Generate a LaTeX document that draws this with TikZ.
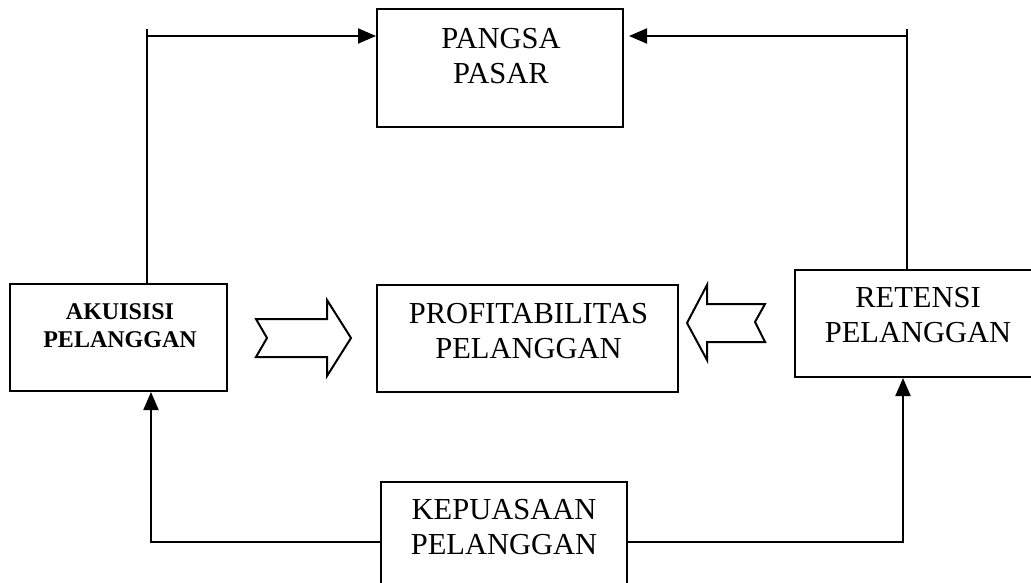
\documentclass[tikz,border=0pt]{standalone}
\usepackage{fontspec}
\setmainfont{Liberation Serif}
\usetikzlibrary{arrows.meta}
\tikzset{
  box/.style={draw, line width=2pt, rectangle, inner sep=0pt},
  lbl/.style={align=center, inner sep=0pt, font=\fontsize{30.5}{35}\selectfont},
  lblb/.style={align=center, inner sep=0pt, font=\bfseries\fontsize{24}{28}\selectfont},
  conn/.style={line width=2pt, -{Triangle[length=18pt,width=15pt]}},
  blockarrow/.style={draw, line width=2pt, fill=white, line join=miter},
}
\begin{document}
\begin{tikzpicture}[x=1pt,y=-1pt]
\useasboundingbox (0,0) rectangle (1031,583);
\clip (0,0) rectangle (1031,583);
\fill[white] (0,0) rectangle (1031,583);

% boxes
\node[box, minimum width=246pt, minimum height=118pt] (pangsa) at (500,68) {};
\node[box, minimum width=217pt, minimum height=107pt] (akuisisi) at (118.5,337.5) {};
\node[box, minimum width=301pt, minimum height=107pt] (profit) at (527.5,338.5) {};
\node[box, minimum width=246pt, minimum height=107pt] (retensi) at (918,323.5) {};
\node[box, minimum width=246pt, minimum height=120pt] (kepuasaan) at (504,542) {};

% labels
\node[lbl] (pangsaT) at (501,56) {PANGSA\\PASAR};
\node[lblb] (akuisisiT) at (120,326) {AKUISISI\\PELANGGAN};
\node[lbl] (profitT) at (528.5,331) {PROFITABILITAS\\PELANGGAN};
\node[lbl] (retensiT) at (918,315.5) {RETENSI\\PELANGGAN};
\node[lbl] (kepuasaanT) at (504,527.5) {KEPUASAAN\\PELANGGAN};

% corner coordinates
\coordinate (tl) at (147,36);
\coordinate (tr) at (907,36);
\coordinate (bl) at (151,542);
\coordinate (br) at (903,542);

% connectors
\draw[conn] (akuisisi.north -| tl) -- (tl) -- (tl -| pangsa.west);
\draw[line width=2pt] (tl) -- ++(0,-7);
\draw[conn] (retensi.north -| tr) -- (tr) -- ([xshift=5pt]tr -| pangsa.east);
\draw[line width=2pt] (tr) -- ++(0,-7);
\draw[conn] (kepuasaan.west |- bl) -- (bl) -- (bl |- akuisisi.south);
\draw[conn] (kepuasaan.east |- br) -- (br) -- (br |- retensi.south);

% block arrows
\draw[blockarrow] (256,319) -- (327,319) -- (327,300) -- (351,338) -- (327,376)
  -- (327,357) -- (256,357) -- (267,338) -- cycle;
\draw[blockarrow] (687,323) -- (707,285) -- (707,304) -- (765,304) -- (755,322)
  -- (765,342) -- (707,342) -- (707,360) -- cycle;
\end{tikzpicture}
\end{document}
